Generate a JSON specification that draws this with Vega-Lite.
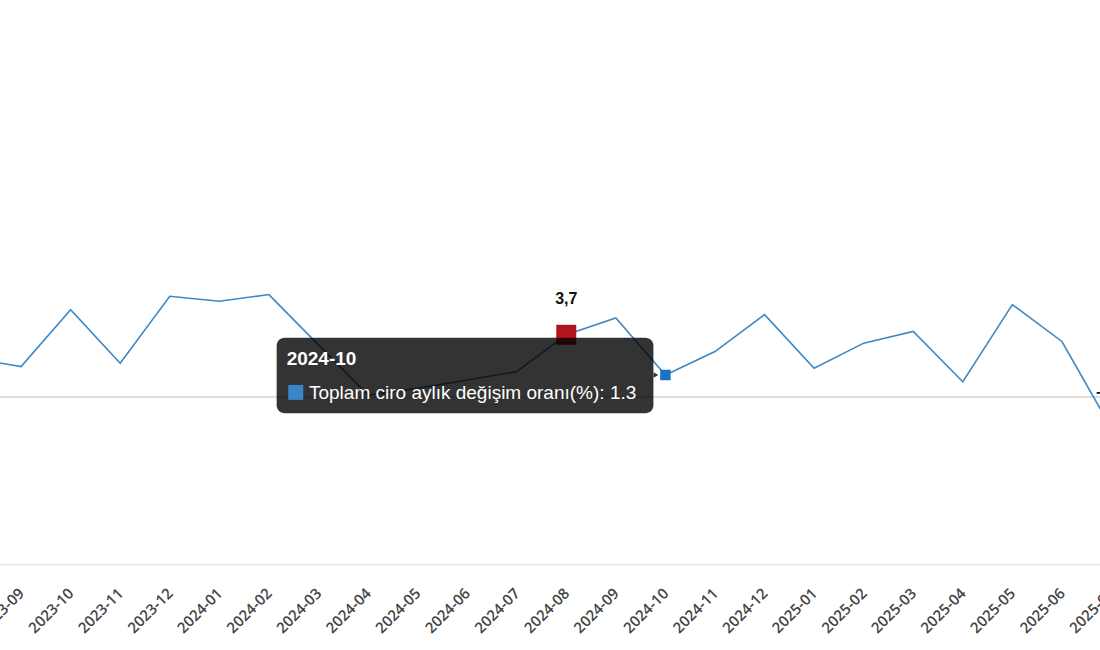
{
  "$schema": "https://vega.github.io/schema/vega-lite/v6.json",
  "width": 1100,
  "height": 502.6,
  "autosize": {"type": "none"},
  "padding": {"left": 0, "right": 0, "top": 61.7, "bottom": 85.7},
  "background": "white",
  "config": {
    "view": {"stroke": null},
    "axis": {"title": null}
  },
  "data": {
    "values": [
      {"month": "2023-08", "value": 2.3},
      {"month": "2023-09", "value": 1.8},
      {"month": "2023-10", "value": 5.2},
      {"month": "2023-11", "value": 2.0},
      {"month": "2023-12", "value": 6.0},
      {"month": "2024-01", "value": 5.7},
      {"month": "2024-02", "value": 6.1},
      {"month": "2024-03", "value": 3.1},
      {"month": "2024-04", "value": 0.1},
      {"month": "2024-05", "value": 0.5},
      {"month": "2024-06", "value": 1.0},
      {"month": "2024-07", "value": 1.5},
      {"month": "2024-08", "value": 3.7},
      {"month": "2024-09", "value": 4.7},
      {"month": "2024-10", "value": 1.3},
      {"month": "2024-11", "value": 2.7},
      {"month": "2024-12", "value": 4.9},
      {"month": "2025-01", "value": 1.7},
      {"month": "2025-02", "value": 3.2},
      {"month": "2025-03", "value": 3.9},
      {"month": "2025-04", "value": 0.9},
      {"month": "2025-05", "value": 5.5},
      {"month": "2025-06", "value": 3.3},
      {"month": "2025-07", "value": -1.9}
    ]
  },
  "layer": [
    {
      "mark": {"type": "rule", "color": "#dcdcdc", "strokeWidth": 1},
      "encoding": {"y": {"datum": 0, "type": "quantitative", "scale": {"domain": [-10, 20]}}}
    },
    {
      "mark": {"type": "line", "color": "#3e88c6", "strokeWidth": 1.6, "clip": true},
      "encoding": {
        "x": {
          "field": "month",
          "type": "ordinal",
          "sort": null,
          "scale": {
            "type": "point",
            "domain": ["2023-08","2023-09","2023-10","2023-11","2023-12","2024-01","2024-02","2024-03","2024-04","2024-05","2024-06","2024-07","2024-08","2024-09","2024-10","2024-11","2024-12","2025-01","2025-02","2025-03","2025-04","2025-05","2025-06","2025-07"],
            "range": [-28.5, 1111.5],
            "padding": 0
          },
          "axis": {
            "labelAngle": -45,
            "labelAlign": "right",
            "labelBaseline": "middle",
            "labelPadding": 26,
            "ticks": false,
            "domainColor": "#dcdcdc",
            "labelColor": "#444444",
            "labelFont": "Open Sans",
            "labelFontSize": 15,
            "labelFontWeight": 600,
            "grid": false,
            "labelOverlap": false,
            "labelBound": false,
            "labelFlush": false
          }
        },
        "y": {"field": "value", "type": "quantitative", "scale": {"domain": [-10, 20]}, "axis": null}
      }
    },
    {
      "transform": [{"filter": {"field": "month", "oneOf": ["2024-08", "2025-07"]}}],
      "mark": {"type": "point", "shape": "square", "filled": true, "size": 400, "color": "#b0141c", "opacity": 1, "clip": true},
      "encoding": {
        "x": {"field": "month", "type": "ordinal"},
        "y": {"field": "value", "type": "quantitative"}
      }
    },
    {
      "transform": [
        {"filter": {"field": "month", "oneOf": ["2024-08", "2025-07"]}},
        {"calculate": "replace(format(datum.value, '.1f'), '.', ',')", "as": "label"}
      ],
      "mark": {"type": "text", "font": "Liberation Sans", "fontWeight": "bold", "fontSize": 16, "color": "#111111", "baseline": "alphabetic", "dy": -31, "clip": true},
      "encoding": {
        "x": {"field": "month", "type": "ordinal"},
        "y": {"field": "value", "type": "quantitative"},
        "text": {"field": "label"}
      }
    },
    {
      "transform": [{"filter": {"field": "month", "equal": "2024-10"}}],
      "mark": {"type": "point", "shape": "square", "filled": true, "size": 110, "color": "#1a72c2", "opacity": 1},
      "encoding": {
        "x": {"field": "month", "type": "ordinal"},
        "y": {"field": "value", "type": "quantitative"}
      }
    },
    {
      "data": {"values": [{}]},
      "mark": {"type": "rect", "color": "black", "opacity": 0.8, "cornerRadius": 8, "xOffset": -41.8, "x2Offset": -12},
      "encoding": {
        "x": {"datum": "2024-03", "type": "ordinal"},
        "x2": {"datum": "2024-10"},
        "y": {"datum": 3.52, "type": "quantitative"},
        "y2": {"datum": -0.985}
      }
    },
    {
      "data": {"values": [{}]},
      "mark": {"type": "point", "shape": "triangle-right", "filled": true, "size": 30, "color": "#333333", "opacity": 1, "xOffset": -9.5},
      "encoding": {
        "x": {"datum": "2024-10", "type": "ordinal"},
        "y": {"datum": 1.3, "type": "quantitative"}
      }
    },
    {
      "data": {"values": [{}]},
      "mark": {"type": "text", "text": "2024-10", "font": "Liberation Sans", "fontWeight": "bold", "fontSize": 19, "color": "white", "align": "left", "baseline": "alphabetic", "dx": -31.8},
      "encoding": {
        "x": {"datum": "2024-03", "type": "ordinal"},
        "y": {"datum": 1.89, "type": "quantitative"}
      }
    },
    {
      "data": {"values": [{}]},
      "mark": {"type": "point", "shape": "square", "filled": true, "size": 225, "color": "#3a86c6", "opacity": 1, "xOffset": -22.7},
      "encoding": {
        "x": {"datum": "2024-03", "type": "ordinal"},
        "y": {"datum": 0.26, "type": "quantitative"}
      }
    },
    {
      "data": {"values": [{}]},
      "mark": {"type": "text", "text": "Toplam ciro aylık değişim oranı(%): 1.3", "font": "Liberation Sans", "fontSize": 19, "color": "white", "align": "left", "baseline": "alphabetic", "dx": -9.5},
      "encoding": {
        "x": {"datum": "2024-03", "type": "ordinal"},
        "y": {"datum": -0.13, "type": "quantitative"}
      }
    }
  ]
}
